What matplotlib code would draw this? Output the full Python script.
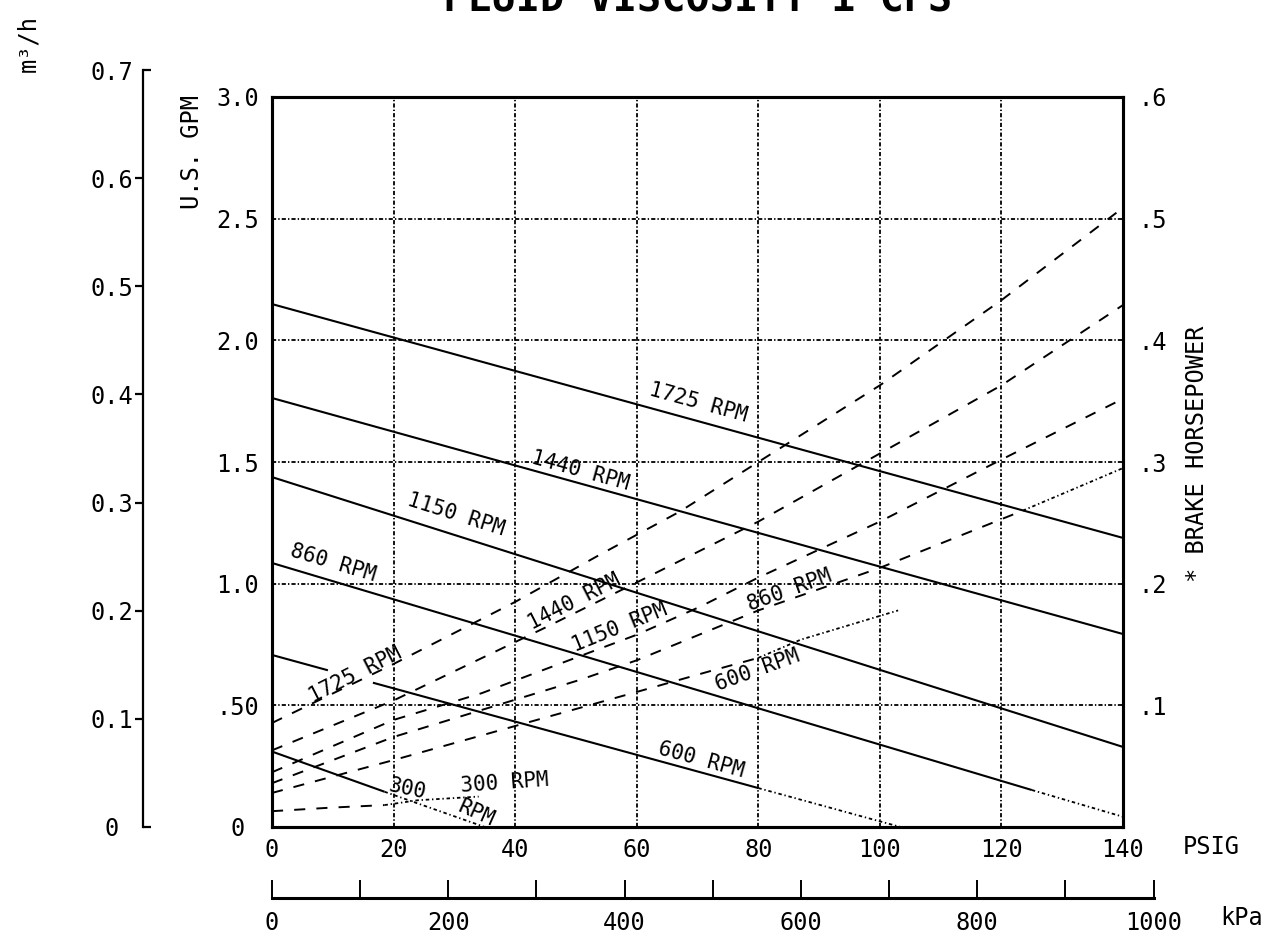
import numpy as np
import matplotlib
matplotlib.use('Agg')
from matplotlib import pyplot as plt
import matplotlib.lines as mlines

plt.rcParams['font.family'] = ['DejaVu Sans Mono', 'DejaVu Sans']
plt.rcParams['lines.scale_dashes'] = False

# axis ticks and labels
psi_ticks = [0, 20, 40, 60, 80, 100, 120, 140]
gpm_ticks = [0, 0.5, 1.0, 1.5, 2.0, 2.5, 3.0]
gpm_labels = ['0', '.50', '1.0', '1.5', '2.0', '2.5', '3.0']
hp_ticks = [0.1, 0.2, 0.3, 0.4, 0.5, 0.6]
hp_labels = ['.1', '.2', '.3', '.4', '.5', '.6']
m3h_ticks = [0, 0.1, 0.2, 0.3, 0.4, 0.5, 0.6, 0.7]
m3h_labels = ['0', '0.1', '0.2', '0.3', '0.4', '0.5', '0.6', '0.7']
kpa_ticks = [0, 200, 400, 600, 800, 1000]
kpa_minor = [100, 300, 500, 700, 900]

# capacity (U.S. GPM) vs pressure (PSIG), solid part and dotted extension
flow_1725_psi = [0, 140]
flow_1725_gpm = [2.149, 1.188]
flow_1440_psi = [0, 140]
flow_1440_gpm = [1.763, 0.793]
flow_1150_psi = [0, 140]
flow_1150_gpm = [1.438, 0.329]
flow_860_psi = [0, 125]
flow_860_gpm = [1.085, 0.152]
flow_860_ext_psi = [125, 140]
flow_860_ext_gpm = [0.152, 0.042]
flow_600_psi = [0, 9.2, np.nan, 16.6, 80]
flow_600_gpm = [0.707, 0.644, np.nan, 0.593, 0.160]
flow_600_ext_psi = [80, 103.4]
flow_600_ext_gpm = [0.160, 0.0]
flow_300_psi = [0, 18.5]
flow_300_gpm = [0.31, 0.145]
flow_300_ext_psi = [18.5, 35]
flow_300_ext_gpm = [0.145, 0.0]

# brake horsepower vs pressure (PSIG)
hp_1725_psi = [0, 20, 40, 54, 67, 80, 100, 120, 140]
hp_1725_bhp = [0.0855, 0.134, 0.185, 0.224, 0.259, 0.300, 0.363, 0.433, 0.509]
hp_1440_psi = [0, 20, 45, 60, 80, 100, 120, 140]
hp_1440_bhp = [0.063, 0.104, 0.164, 0.201, 0.251, 0.307, 0.363, 0.429]
hp_1150_psi = [0, 20, 34.5, 60, 70.4, 80, 100, 120, 140]
hp_1150_bhp = [0.045, 0.088, 0.110, 0.158, 0.181, 0.205, 0.251, 0.302, 0.352]
hp_860_psi = [0, 20, 50.7, 60, 80, 100, 123.5]
hp_860_bhp = [0.036, 0.074, 0.121, 0.137, 0.178, 0.213, 0.260]
hp_860_ext_psi = [123.5, 140]
hp_860_ext_bhp = [0.260, 0.295]
hp_600_psi = [0, 20, 60, 72, 80]
hp_600_bhp = [0.028, 0.055, 0.111, 0.128, 0.139]
hp_600_ext_psi = [80, 87, 103]
hp_600_ext_bhp = [0.139, 0.154, 0.178]
hp_300_psi = [0, 10, 18.5]
hp_300_bhp = [0.013, 0.016, 0.018]
hp_300_ext_psi = [18.5, 24, 34]
hp_300_ext_bhp = [0.018, 0.022, 0.025]

# curve labels: text, psi, value, rotation
flow_label_text = ['1725 RPM', '1440 RPM', '1150 RPM', '860 RPM', '600 RPM', '300', 'RPM']
flow_label_psi = [70.1, 50.7, 30.3, 10.0, 70.6, 22.2, 33.6]
flow_label_gpm = [1.742, 1.463, 1.282, 1.085, 0.275, 0.156, 0.058]
flow_label_rot = [-15.4, -15.5, -17.6, -16.6, -15.3, -12, -24]
hp_label_text = ['1725 RPM', '1440 RPM', '1150 RPM', '860 RPM', '600 RPM', '300 RPM']
hp_label_psi = [13.7, 49.8, 57.2, 85.2, 79.9, 38.3]
hp_label_bhp = [0.125, 0.185, 0.164, 0.195, 0.129, 0.036]
hp_label_rot = [27, 27, 22, 20, 20, 4]

W, H = 1284, 935
solid_kw = dict(color='black', lw=1.5, solid_capstyle='butt')
dash_kw = dict(color='black', lw=1.4, linestyle=(0, (8, 8)))
dot_kw = dict(color='black', lw=1.3, linestyle=(0, (2.5, 2, 1, 2)))
grid_ls = (0, (3, 1.5, 1, 1.5))
fs = 17

fig = plt.figure(figsize=(W / 100, H / 100), dpi=100)
x0, x1 = 272 / W, 1123 / W
y0, y1 = 1 - 827 / H, 1 - 97 / H
ax = fig.add_axes([x0, y0, x1 - x0, y1 - y0])

ax.plot(flow_1725_psi, flow_1725_gpm, **solid_kw)
ax.plot(flow_1440_psi, flow_1440_gpm, **solid_kw)
ax.plot(flow_1150_psi, flow_1150_gpm, **solid_kw)
ax.plot(flow_860_psi, flow_860_gpm, **solid_kw)
ax.plot(flow_860_ext_psi, flow_860_ext_gpm, **dot_kw)
ax.plot(flow_600_psi, flow_600_gpm, **solid_kw)
ax.plot(flow_600_ext_psi, flow_600_ext_gpm, **dot_kw)
ax.plot(flow_300_psi, flow_300_gpm, **solid_kw)
ax.plot(flow_300_ext_psi, flow_300_ext_gpm, **dot_kw)

for t, px, py, r in zip(flow_label_text, flow_label_psi, flow_label_gpm, flow_label_rot):
    ax.text(px, py, t, rotation=r, rotation_mode='anchor', ha='center', va='center', fontsize=15)

ax.set_xlim(0, 140)
ax.set_ylim(0, 3.0)
ax.set_xticks(psi_ticks)
ax.set_yticks(gpm_ticks)
ax.set_yticklabels(gpm_labels)
ax.tick_params(axis='both', length=0, labelsize=fs)
ax.tick_params(axis='x', pad=8)
ax.tick_params(axis='y', pad=24.5)
for lab in ax.get_yticklabels():
    lab.set_horizontalalignment('center')
ax.grid(True, color='black', lw=1.3, linestyle=grid_ls)
for s in ax.spines.values():
    s.set_linewidth(2.2)

# horsepower axis on the right
axh = ax.twinx()
axh.set_ylim(0, 0.6)
axh.plot(hp_1725_psi, hp_1725_bhp, **dash_kw)
axh.plot(hp_1440_psi, hp_1440_bhp, **dash_kw)
axh.plot(hp_1150_psi, hp_1150_bhp, **dash_kw)
axh.plot(hp_860_psi, hp_860_bhp, **dash_kw)
axh.plot(hp_860_ext_psi, hp_860_ext_bhp, **dot_kw)
axh.plot(hp_600_psi, hp_600_bhp, **dash_kw)
axh.plot(hp_600_ext_psi, hp_600_ext_bhp, **dot_kw)
axh.plot(hp_300_psi, hp_300_bhp, **dash_kw)
axh.plot(hp_300_ext_psi, hp_300_ext_bhp, **dot_kw)
for t, px, py, r in zip(hp_label_text, hp_label_psi, hp_label_bhp, hp_label_rot):
    axh.text(px, py, t, rotation=r, rotation_mode='anchor', ha='center', va='center', fontsize=15)
axh.set_yticks(hp_ticks)
axh.set_yticklabels(hp_labels)
axh.tick_params(axis='y', length=0, labelsize=fs, pad=11)
for s in axh.spines.values():
    s.set_linewidth(2.2)

# m3/h axis at far left
mb, mt = 1 - 827 / H, 1 - 70 / H
axm = fig.add_axes([143 / W, mb, 0.0005, mt - mb])
axm.set_ylim(0, 0.7)
axm.patch.set_visible(False)
for s in ['top', 'right', 'bottom']:
    axm.spines[s].set_visible(False)
axm.spines['left'].set_linewidth(1.6)
axm.set_xticks([])
axm.set_yticks(m3h_ticks)
axm.set_yticklabels(m3h_labels)
axm.tick_params(axis='y', direction='out', length=6, width=1.6, labelsize=fs, pad=16.5)
for lab in axm.get_yticklabels():
    lab.set_horizontalalignment('center')
mt_list = axm.yaxis.get_major_ticks()
for t in (mt_list[0], mt_list[-1]):
    t.tick1line.set_marker(mlines.TICKRIGHT)

# kPa scale at bottom
kpa_max = 140 * 6.894757
kw = (x1 - x0) * 1000 / kpa_max
axk = fig.add_axes([x0, 1 - 898 / H, kw, 0.01])
axk.set_xlim(0, 1000)
axk.patch.set_visible(False)
for s in ['top', 'right', 'left']:
    axk.spines[s].set_visible(False)
axk.spines['bottom'].set_linewidth(2.2)
axk.set_yticks([])
axk.set_xticks(kpa_ticks)
axk.set_xticks(kpa_minor, minor=True)
axk.tick_params(axis='x', which='both', direction='in', length=13, width=1.4, labelsize=fs, pad=9)

fig.text((272 + 1123) / 2 / W, 1 - 12 / H, 'FLUID VISCOSITY 1 CPS', ha='center', va='baseline',
         fontsize=29, fontweight='bold')
fig.text(192 / W, 1 - 152 / H, 'U.S. GPM', rotation=90, ha='center', va='center', fontsize=fs)
fig.text(1197 / W, 1 - 454 / H, '* BRAKE HORSEPOWER', rotation=90, ha='center', va='center', fontsize=fs)
fig.text(28 / W, 1 - 43 / H, 'm³/h', rotation=90, ha='center', va='center', fontsize=fs)
fig.text(1211 / W, 1 - 847 / H, 'PSIG', ha='center', va='center', fontsize=fs)
fig.text(1242 / W, 1 - 918 / H, 'kPa', ha='center', va='center', fontsize=fs)

fig.savefig('out.png', dpi=100)
